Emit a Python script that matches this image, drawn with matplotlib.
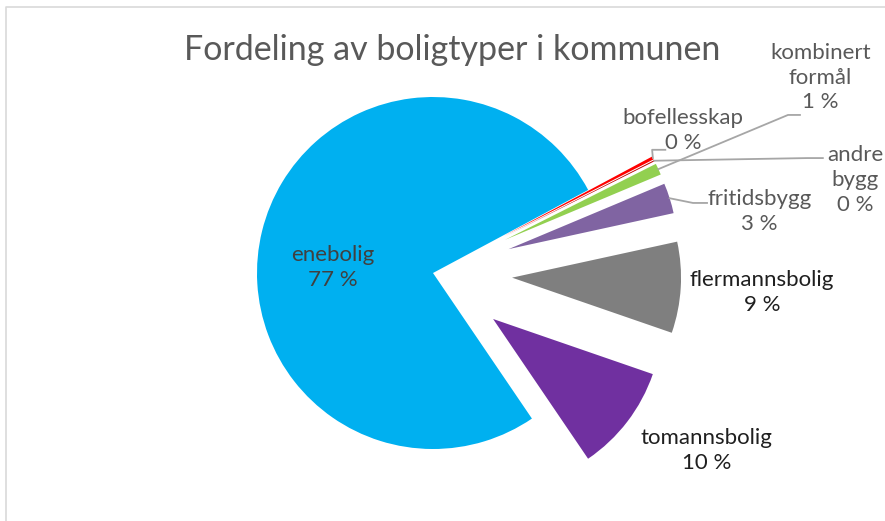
import matplotlib.pyplot as plt
import numpy as np

plt.rcParams['font.family'] = ['Lato', 'DejaVu Sans']

# Data (share of dwellings, %)
categories = ['enebolig', 'bofellesskap', 'andre bygg', 'kombinert formål',
              'fritidsbygg', 'flermannsbolig', 'tomannsbolig']
values = [76.6, 0.3, 0.1, 1.1, 2.9, 8.7, 10.2]
colors = ['#00B0F0', '#FF0000', '#C00000', '#92D050',
          '#8064A2', '#7F7F7F', '#7030A0']
explode = [0, 0.45, 0.45, 0.45, 0.45, 0.45, 0.43]

# label text and placement (data units, pie radius = 1)
label_text = ['enebolig\n77 %', 'bofellesskap\n0 %', 'andre\nbygg\n0 %',
              'kombinert\nformål\n1 %', 'fritidsbygg\n3 %',
              'flermannsbolig\n9 %', 'tomannsbolig\n10 %']
label_pos = [(-0.57, 0.03), (1.42, 0.81), (2.40, 0.53), (2.20, 1.11),
             (1.855, 0.35), (1.87, -0.11), (1.555, -1.01)]
label_col = ['#404040', '#595959', '#595959', '#595959',
             '#595959', '#1F1F1F', '#1F1F1F']
# leader lines: (label end, elbow) for the small slices
leaders = {1: [(1.32, 0.70), (1.245, 0.70)],
           2: [(2.215, 0.653), (2.125, 0.653)],
           3: [(2.085, 0.898), (2.017, 0.898)],
           4: [(1.557, 0.398), (1.477, 0.398)]}

fig = plt.figure(figsize=(8.85, 5.21), dpi=100)
ax = fig.add_axes([0, 0, 1, 1])

wedges, _ = ax.pie(values, colors=colors, explode=explode, startangle=-55.8,
                   counterclock=False, radius=1, center=(0, 0),
                   wedgeprops=dict(linewidth=0))
for w in wedges[1:]:
    w.set_radius(0.96)

ax.set_xlim(-433 / 176, 452 / 176)
ax.set_ylim(-248 / 176, 273 / 176)
ax.set_aspect('equal')
ax.axis('off')

for i, w in enumerate(wedges):
    x, y = label_pos[i]
    ax.text(x, y, label_text[i], ha='center', va='center', fontsize=16,
            color=label_col[i], linespacing=1.3)
    if i in leaders:
        mid = np.deg2rad((w.theta1 + w.theta2) / 2)
        cx, cy = w.center
        tip = (cx + w.r * np.cos(mid), cy + w.r * np.sin(mid))
        pts = leaders[i] + [tip]
        ax.plot([p[0] for p in pts], [p[1] for p in pts], color='#A6A6A6', lw=1.3)

fig.text(0.511, 0.904, 'Fordeling av boligtyper i kommunen', ha='center', va='center',
         fontsize=24.5, color='#595959')

# chart border
fig.add_artist(plt.Line2D([6 / 885, 6 / 885, 1], [0, 1 - 7 / 521, 1 - 7 / 521],
                          color='#D9D9D9', lw=1.2))

fig.savefig('out.png', dpi=100)
